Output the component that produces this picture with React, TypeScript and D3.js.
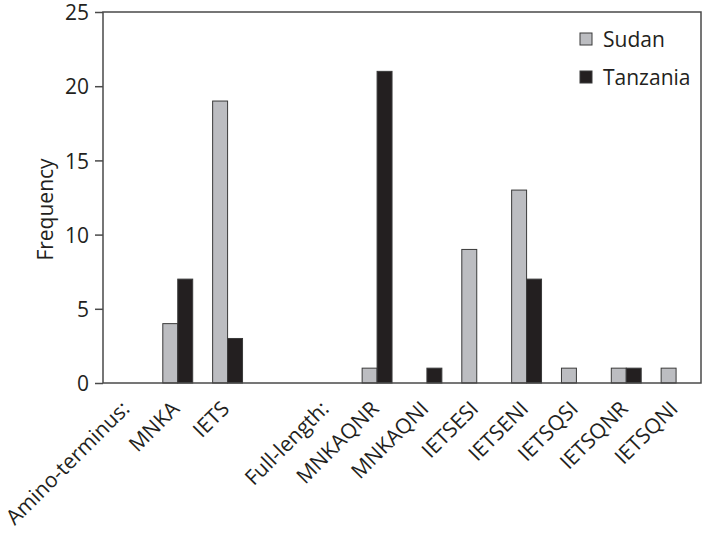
import React, { useEffect, useRef } from "react";
import * as d3 from "d3";

const categories = [
  "Amino-terminus:",
  "MNKA",
  "IETS",
  "",
  "Full-length:",
  "MNKAQNR",
  "MNKAQNI",
  "IETSESI",
  "IETSENI",
  "IETSQSI",
  "IETSQNR",
  "IETSQNI",
];
const sudan = [0, 4, 19, 0, 0, 1, 0, 9, 13, 1, 1, 1];
const tanzania = [0, 7, 3, 0, 0, 21, 1, 0, 7, 0, 1, 0];
const seriesNames = ["Sudan", "Tanzania"];
const seriesColors = ["#bcbdc1", "#231f20"];
const yTicks = [0, 5, 10, 15, 20, 25];

const FONT = "'Open Sans', 'DejaVu Sans', sans-serif";

const App = () => {
  const ref = useRef<SVGSVGElement>(null);

  useEffect(() => {
    const width = 702;
    const height = 536;
    const margin = { top: 12, right: 1, bottom: 153, left: 103 };
    const plotH = height - margin.top - margin.bottom;

    const svg = d3.select(ref.current);
    svg.selectAll("*").remove();
    svg.attr("width", width).attr("height", height);

    const x = d3
      .scaleBand()
      .domain(categories.map((c, i) => i + ""))
      .range([margin.left, width - margin.right])
      .paddingInner(0.4)
      .paddingOuter(0.2);
    const x1 = d3.scaleBand().domain(seriesNames).range([0, x.bandwidth()]);
    const y = d3
      .scaleLinear()
      .domain([0, 25])
      .range([margin.top + plotH, margin.top]);

    // bars
    const g = svg.append("g");
    categories.forEach((c, i) => {
      [sudan[i], tanzania[i]].forEach((v, si) => {
        if (!v) return;
        g.append("rect")
          .attr("x", x(i + "")! + x1(seriesNames[si])!)
          .attr("y", y(v))
          .attr("width", x1.bandwidth())
          .attr("height", y(0) - y(v))
          .attr("fill", seriesColors[si])
          .attr("stroke", "#3a3a3a")
          .attr("stroke-width", 1);
      });
    });

    // frame
    svg
      .append("rect")
      .attr("x", margin.left)
      .attr("y", margin.top)
      .attr("width", width - margin.right - margin.left)
      .attr("height", plotH)
      .attr("fill", "none")
      .attr("stroke", "#4a4a4a")
      .attr("stroke-width", 1.5);

    // y axis
    const yAxis = svg
      .append("g")
      .attr("transform", `translate(${margin.left},0)`)
      .call(d3.axisLeft(y).tickValues(yTicks).tickSize(8).tickPadding(6));
    yAxis.select(".domain").remove();
    yAxis.selectAll("line").attr("stroke", "#4a4a4a").attr("stroke-width", 1.5);
    yAxis
      .selectAll("text")
      .attr("dy", "0.37em")
      .attr("fill", "#231f20")
      .style("font-family", FONT)
      .style("font-size", "21px");

    // x labels
    svg
      .append("g")
      .selectAll("text")
      .data(categories.map((c, i) => ({ c, i })))
      .enter()
      .append("text")
      .attr(
        "transform",
        (d) => `translate(${x(d.i + "")! + x.bandwidth() / 2 + 3},${y(0) + 27}) rotate(-45)`
      )
      .attr("text-anchor", "end")
      .attr("fill", "#231f20")
      .style("font-family", FONT)
      .style("font-size", "21px")
      .text((d) => d.c);

    // y title
    svg
      .append("text")
      .attr("transform", `translate(53,${margin.top + plotH / 2 + 12}) rotate(-90)`)
      .attr("text-anchor", "middle")
      .attr("fill", "#231f20")
      .style("font-family", FONT)
      .style("font-size", "21px")
      .text("Frequency");

    // legend
    const legend = svg
      .append("g")
      .selectAll("g")
      .data(seriesNames)
      .enter()
      .append("g")
      .attr("transform", (d, i) => `translate(580,${33 + i * 38})`);
    legend
      .append("rect")
      .attr("width", 12)
      .attr("height", 12)
      .attr("fill", (d, i) => seriesColors[i])
      .attr("stroke", "#3a3a3a")
      .attr("stroke-width", 1);
    legend
      .append("text")
      .attr("x", 23)
      .attr("y", 14)
      .attr("fill", "#231f20")
      .style("font-family", FONT)
      .style("font-size", "21px")
      .text((d) => d);
  }, []);

  return (
    <div style={{ position: "absolute", left: 0, top: 0 }}>
      <svg ref={ref} style={{ display: "block" }}></svg>
    </div>
  );
};

export default App;
